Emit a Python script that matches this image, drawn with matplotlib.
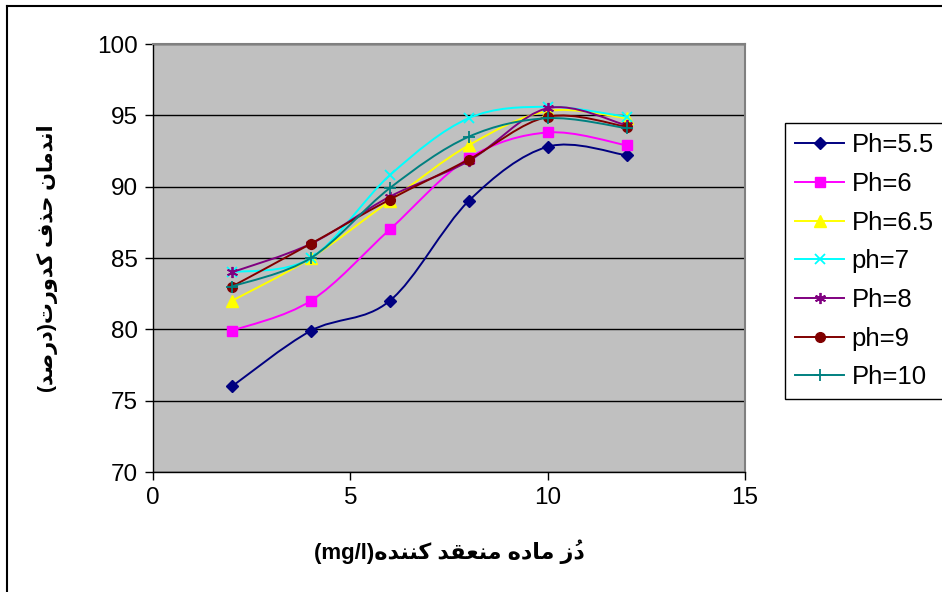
import matplotlib
matplotlib.use("Agg")
import matplotlib.pyplot as plt
from matplotlib.path import Path
from matplotlib.patches import PathPatch
from matplotlib.lines import Line2D
import numpy as np

# ---------------- data ----------------
dose = [2, 4, 6, 8, 10, 12]
ph_5_5 = [76.0, 79.9, 82.0, 89.0, 92.8, 92.2]
ph_6 = [79.9, 82.0, 87.0, 92.0, 93.8, 92.9]
ph_6_5 = [82.0, 85.0, 89.0, 92.9, 95.3, 94.8]
ph_7 = [84.0, 85.0, 90.8, 94.8, 95.6, 94.9]
ph_8 = [84.0, 86.0, 89.3, 91.8, 95.5, 94.3]
ph_9 = [83.0, 86.0, 89.1, 91.9, 94.9, 94.2]
ph_10 = [83.0, 85.0, 89.9, 93.5, 94.8, 94.1]
series_labels = ["Ph=5.5", "Ph=6", "Ph=6.5", "ph=7", "Ph=8", "ph=9", "Ph=10"]
x_ticks = [0, 5, 10, 15]
y_ticks = [70, 75, 80, 85, 90, 95, 100]

colors = ["#000080", "#FF00FF", "#FFFF00", "#00FFFF", "#800080", "#800000", "#008080"]
markers = ["D", "s", "^", "x", (6, 2, 0), "o", "+"]
msizes = [6.5, 6.5, 8, 7.5, 8, 7, 8]

# ---------------- minimal Persian shaping (visual order) ----------------
FORMS = {
    "ا": ("\uFE8D", "\uFE8E", None, None),
    "د": ("\uFEA9", "\uFEAA", None, None),
    "ذ": ("\uFEAB", "\uFEAC", None, None),
    "ر": ("\uFEAD", "\uFEAE", None, None),
    "ز": ("\uFEAF", "\uFEB0", None, None),
    "و": ("\uFEED", "\uFEEE", None, None),
    "ه": ("\uFEE9", "\uFEEA", "\uFEEB", "\uFEEC"),
    "ن": ("\uFEE5", "\uFEE6", "\uFEE7", "\uFEE8"),
    "م": ("\uFEE1", "\uFEE2", "\uFEE3", "\uFEE4"),
    "ح": ("\uFEA1", "\uFEA2", "\uFEA3", "\uFEA4"),
    "ف": ("\uFED1", "\uFED2", "\uFED3", "\uFED4"),
    "ت": ("\uFE95", "\uFE96", "\uFE97", "\uFE98"),
    "ص": ("\uFEB9", "\uFEBA", "\uFEBB", "\uFEBC"),
    "ع": ("\uFEC9", "\uFECA", "\uFECB", "\uFECC"),
    "ق": ("\uFED5", "\uFED6", "\uFED7", "\uFED8"),
    "ک": ("\uFB8E", "\uFB8F", "\uFB90", "\uFB91"),
}
MARKS = {"\u064F"}


def dual(c):
    return c in FORMS and FORMS[c][2] is not None


def shape_rtl(text):
    clusters = []
    for ch in text:
        if ch in MARKS and clusters:
            clusters[-1].append(ch)
        else:
            clusters.append([ch])
    bases = [c[0] for c in clusters]
    out = []
    for i, cl in enumerate(clusters):
        b = cl[0]
        if b in FORMS:
            prev_c = bases[i - 1] if i > 0 else None
            next_c = bases[i + 1] if i + 1 < len(bases) else None
            jp = prev_c is not None and dual(prev_c)
            jn = dual(b) and next_c is not None and next_c in FORMS
            iso, fin, ini, med = FORMS[b]
            if jp and jn:
                g = med
            elif jp:
                g = fin
            elif jn:
                g = ini
            else:
                g = iso
            # marks placed before the base in visual order so they sit over it
            out.append(cl[1:] + [g])
        else:
            out.append(cl)
    out.reverse()
    return "".join("".join(c) for c in out)


ylabel_text = "(" + shape_rtl("درصد") + ")" + shape_rtl("اندمان حذف کدورت")
xlabel_text = "(mg/l)" + shape_rtl("دُز ماده منعقد کننده")

# ---------------- figure ----------------
plt.rcParams["font.family"] = ["Liberation Sans", "DejaVu Sans"]
fig = plt.figure(figsize=(9.42, 5.92), dpi=100)
ax = fig.add_axes([153 / 942, 1 - 472 / 592, (745 - 153) / 942, (472 - 44) / 592])
ax.set_facecolor("#C0C0C0")
ax.set_xlim(0, 15)
ax.set_ylim(70, 100)
ax.set_xticks(x_ticks)
ax.set_yticks(y_ticks)
ax.tick_params(axis="both", direction="out", length=6, width=1, color="black",
               labelsize=17.5, pad=5)
ax.yaxis.grid(True, color="black", linewidth=1)
ax.set_axisbelow(True)
for s in ["left", "bottom"]:
    ax.spines[s].set_color("black")
    ax.spines[s].set_linewidth(1)
for s in ["top", "right"]:
    ax.spines[s].set_color("#808080")
    ax.spines[s].set_linewidth(1.5)


def smooth_path(xs, ys):
    pts = np.column_stack([xs, ys]).astype(float)
    n = len(pts)
    verts = [pts[0]]
    codes = [Path.MOVETO]
    for i in range(n - 1):
        p0 = pts[i - 1] if i > 0 else pts[i]
        p1 = pts[i]
        p2 = pts[i + 1]
        p3 = pts[i + 2] if i + 2 < n else pts[i + 1]
        c1 = p1 + (p2 - p0) / 6.0
        c2 = p2 - (p3 - p1) / 6.0
        verts += [c1, c2, p2]
        codes += [Path.CURVE4] * 3
    return Path(verts, codes)


all_series = [ph_5_5, ph_6, ph_6_5, ph_7, ph_8, ph_9, ph_10]
handles = []
for k, (vals, lab) in enumerate(zip(all_series, series_labels)):
    patch = PathPatch(smooth_path(dose, vals), facecolor="none", edgecolor=colors[k],
                      linewidth=1.4, zorder=3 + k)
    ax.add_patch(patch)
    mk = markers[k]
    line_marker_kwargs = dict(marker=mk, markersize=msizes[k], color=colors[k],
                              markerfacecolor=colors[k], markeredgecolor=colors[k],
                              markeredgewidth=1.3 if mk in ("x", "+") or isinstance(mk, tuple) else 1)
    ax.plot(dose, vals, linestyle="none", zorder=3.5 + k, **line_marker_kwargs)
    handles.append(Line2D([], [], linewidth=1.4, label=lab, **line_marker_kwargs))

leg = fig.legend(handles=handles, loc="upper left",
                 bbox_to_anchor=(785 / 942, 1 - 123 / 592), borderaxespad=0,
                 frameon=True, fancybox=False, edgecolor="black", framealpha=1,
                 fontsize=18.5, handlelength=1.9, handletextpad=0.3,
                 labelspacing=0.57, borderpad=0.4)
leg.get_frame().set_linewidth(1)

ax.set_xlabel(xlabel_text, fontsize=16, fontweight="bold", labelpad=22)
ax.set_ylabel(ylabel_text, fontsize=15, fontweight="bold", labelpad=28)

# chart-area border (left and top edges visible)
fig.add_artist(Line2D([7 / 942, 7 / 942], [0, 1 - 6 / 592], color="black", linewidth=1.5,
                      transform=fig.transFigure))
fig.add_artist(Line2D([7 / 942, 1], [1 - 6 / 592, 1 - 6 / 592], color="black", linewidth=1.5,
                      transform=fig.transFigure))

fig.savefig("out.png", dpi=100)
